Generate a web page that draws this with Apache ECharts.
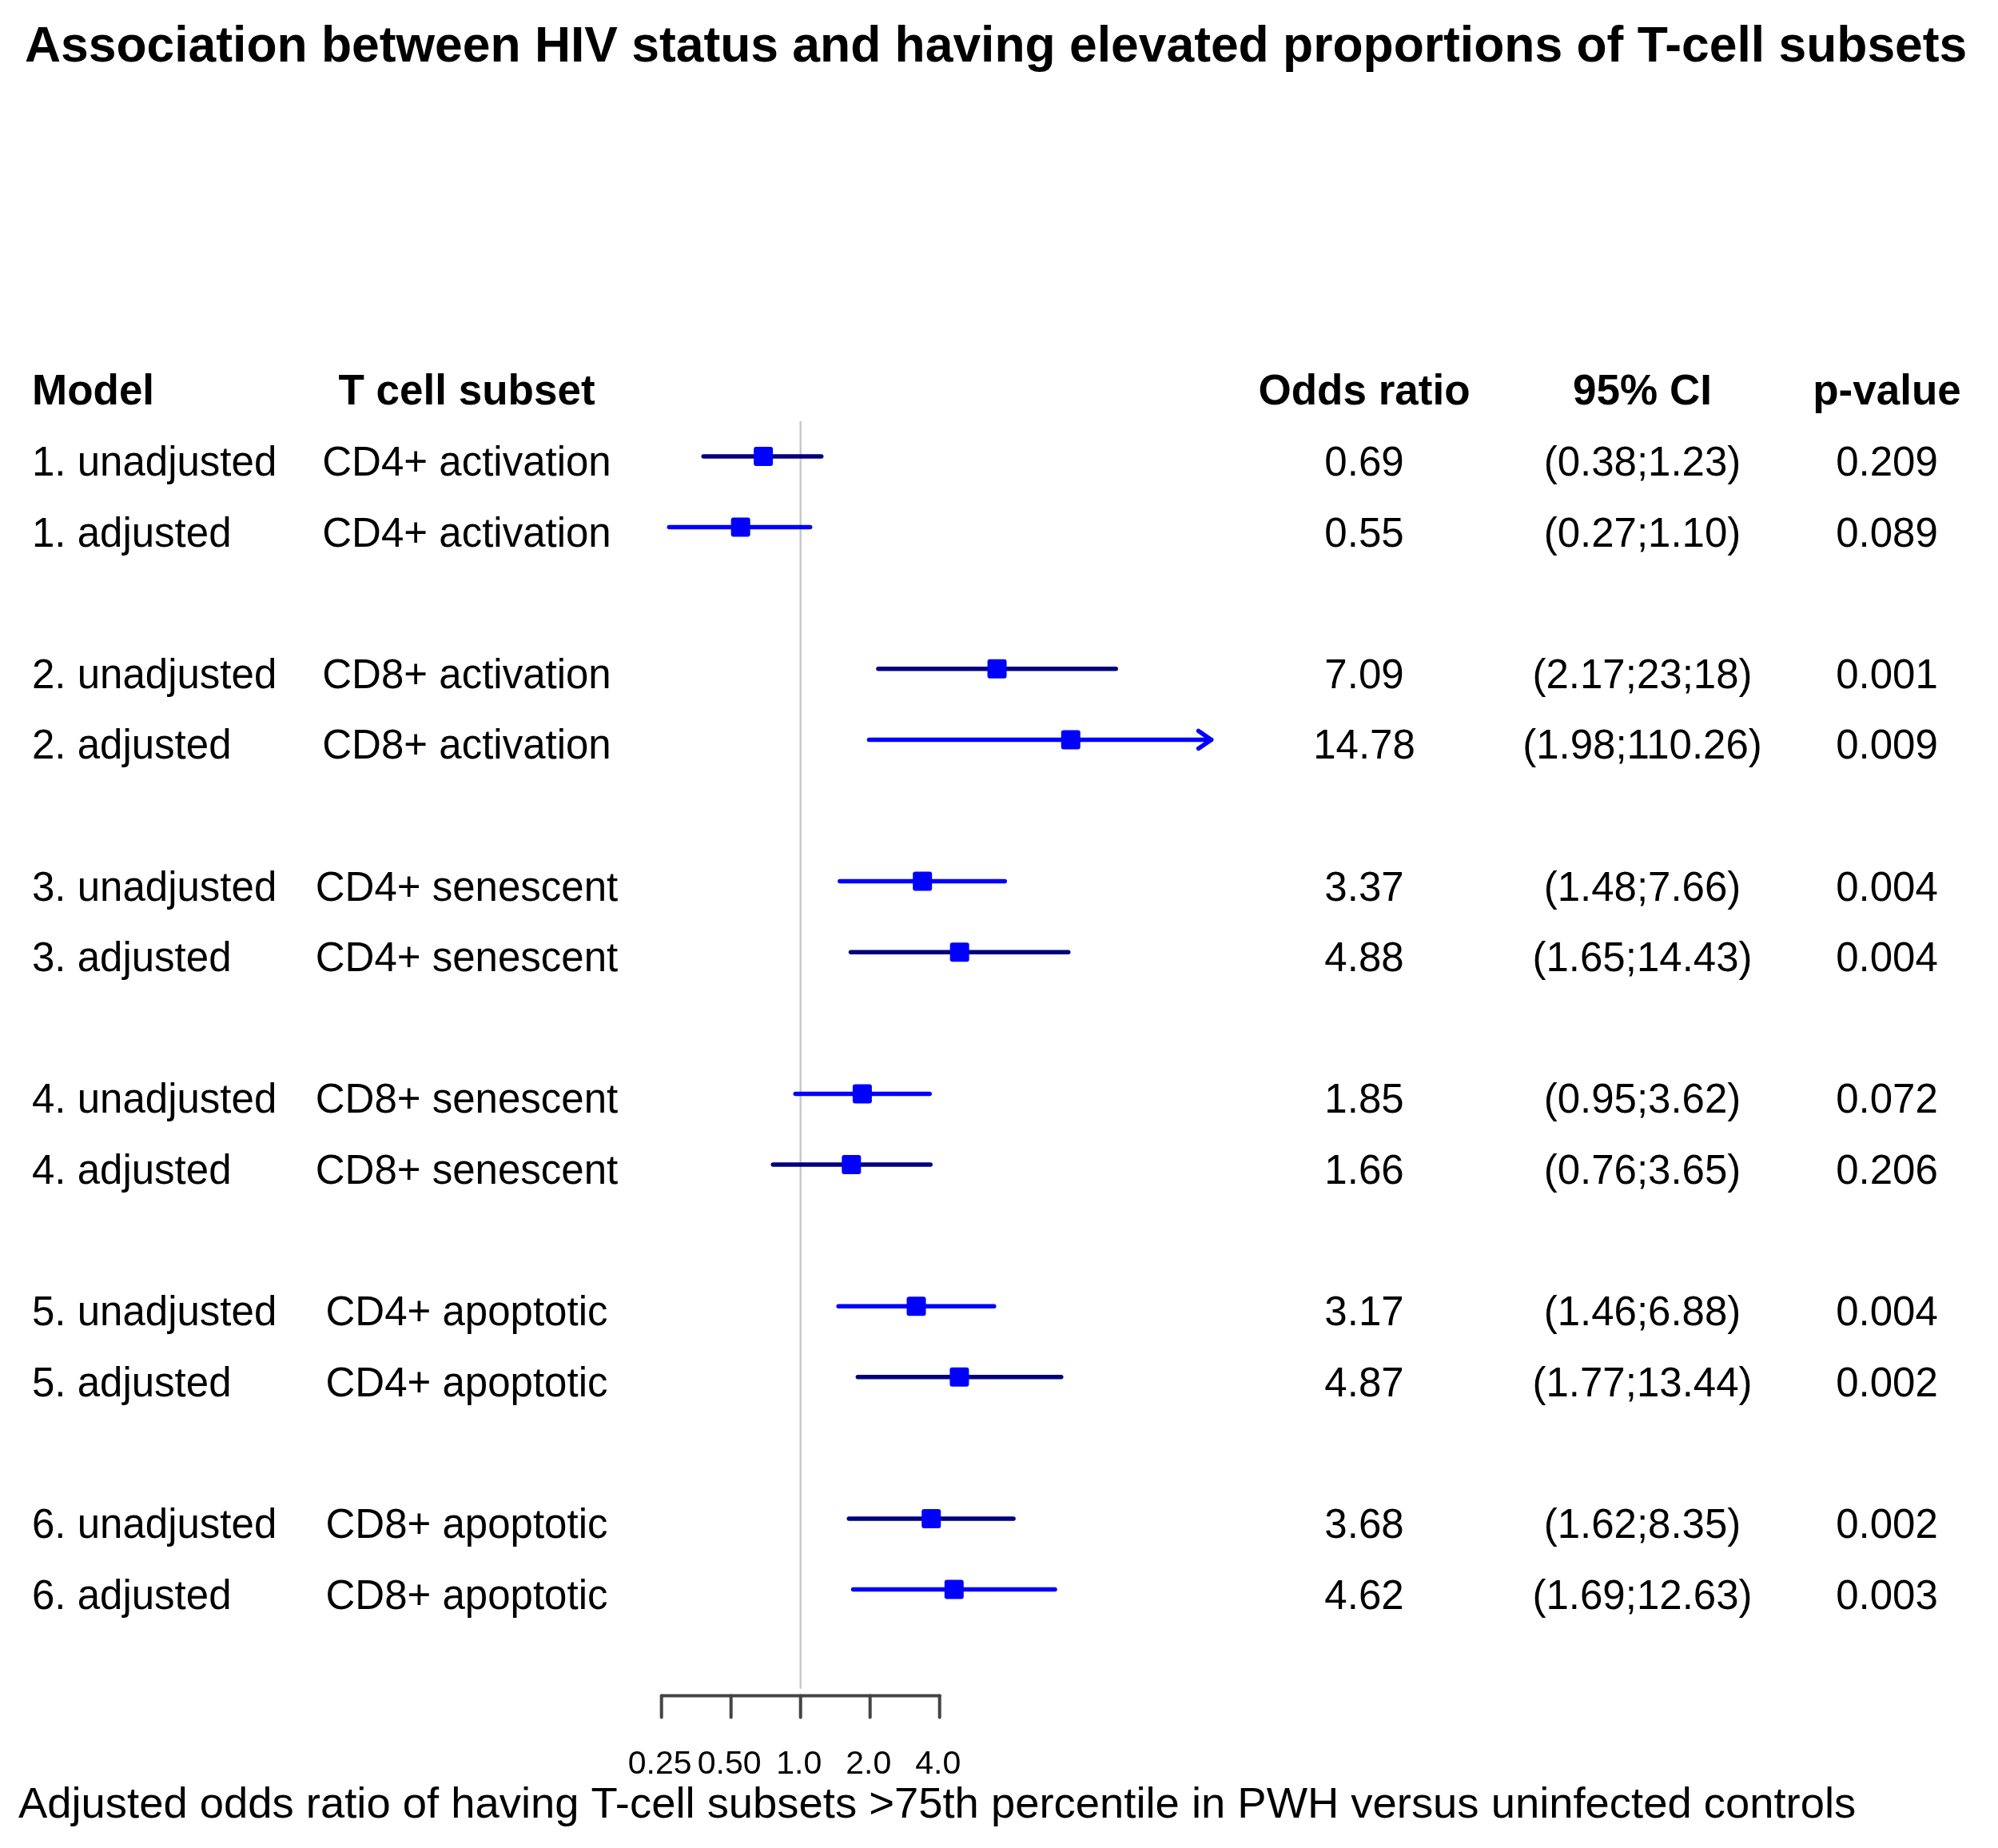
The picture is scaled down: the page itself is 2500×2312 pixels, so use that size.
<!DOCTYPE html>
<html>
<head>
<meta charset="utf-8">
<script src="https://cdn.jsdelivr.net/npm/echarts@6/dist/echarts.min.js"></script>
<style>html,body{margin:0;padding:0;background:#fff;}#c{width:2500px;height:2312px;}</style>
</head>
<body>
<div id="c"></div>
<script>
// ---- data ----
const titleText = 'Association between HIV status and having elevated proportions of T-cell subsets';
const footerText = 'Adjusted odds ratio of having T-cell subsets >75th percentile in PWH versus uninfected controls';
const headers = ['Model', 'T cell subset', 'Odds ratio', '95% CI', 'p-value'];
const models = ['1. unadjusted','1. adjusted','2. unadjusted','2. adjusted','3. unadjusted','3. adjusted',
                '4. unadjusted','4. adjusted','5. unadjusted','5. adjusted','6. unadjusted','6. adjusted'];
const subsets = ['CD4+ activation','CD4+ activation','CD8+ activation','CD8+ activation','CD4+ senescent','CD4+ senescent',
                 'CD8+ senescent','CD8+ senescent','CD4+ apoptotic','CD4+ apoptotic','CD8+ apoptotic','CD8+ apoptotic'];
const oddsRatio = [0.69, 0.55, 7.09, 14.78, 3.37, 4.88, 1.85, 1.66, 3.17, 4.87, 3.68, 4.62];
const ciLow     = [0.38, 0.27, 2.17, 1.98, 1.48, 1.65, 0.95, 0.76, 1.46, 1.77, 1.62, 1.69];
const ciHigh    = [1.23, 1.10, 23.18, 110.26, 7.66, 14.43, 3.62, 3.65, 6.88, 13.44, 8.35, 12.63];
const orText = ['0.69','0.55','7.09','14.78','3.37','4.88','1.85','1.66','3.17','4.87','3.68','4.62'];
const ciText = ['(0.38;1.23)','(0.27;1.10)','(2.17;23;18)','(1.98;110.26)','(1.48;7.66)','(1.65;14.43)',
                '(0.95;3.62)','(0.76;3.65)','(1.46;6.88)','(1.77;13.44)','(1.62;8.35)','(1.69;12.63)'];
const pText = ['0.209','0.089','0.001','0.009','0.004','0.004','0.072','0.206','0.004','0.002','0.002','0.003'];
const rowPos = [0, 1, 3, 4, 6, 7, 9, 10, 12, 13, 15, 16];
const tickValues = [0.25, 0.5, 1, 2, 4];
const tickLabels = ['0.25', '0.50', '1.0', '2.0', '4.0'];
const clipMax = 60;

// ---- styles ----
const NAVY = '#00007f', BLUE = '#0000ff';
const rowLineColors = [NAVY, BLUE, NAVY, BLUE, BLUE, NAVY, BLUE, NAVY, BLUE, NAVY, NAVY, BLUE];
const FF = '"Liberation Sans", Arial, sans-serif';
const rowFont = '51px ' + FF;
const headFont = 'bold 53px ' + FF;
const colX = { model: 40, subset: 584, or: 1707, ci: 2055, p: 2361 };
const headerPos = -1, axisPos = 17.5, refTop = -0.5, refBottom = 17.4;

const chart = echarts.init(document.getElementById('c'), null, { renderer: 'canvas' });

function txt(x, y, text, font, align) {
  return { type: 'text', style: { x: x, y: y, text: text, font: font, fill: '#000', textAlign: align, textVerticalAlign: 'middle' } };
}

const option = {
  animation: false,
  backgroundColor: '#fff',
  grid: { left: 827.7, right: 2500 - (827.7 + 696), top: 393.8, bottom: 2312 - (393.8 + 1772) },
  xAxis: { type: 'log', logBase: 2, min: 0.25, max: 64, show: false },
  yAxis: { type: 'value', min: -2, max: 18, inverse: true, show: false },
  graphic: [
    { type: 'text', left: 31, top: 29, style: { text: titleText, font: 'bold 62.4px ' + FF, fill: '#000' } },
    { type: 'text', left: 23, top: 2232, style: { text: footerText, font: '54.4px ' + FF, fill: '#000' } }
  ],
  series: [
    { // reference line at OR = 1
      type: 'custom', silent: true, clip: false,
      data: [[1, refTop, refBottom]],
      encode: { x: 0, y: [1, 2] },
      renderItem: function (params, api) {
        const a = api.coord([api.value(0), api.value(1)]);
        const b = api.coord([api.value(0), api.value(2)]);
        return { type: 'line', shape: { x1: a[0], y1: a[1], x2: b[0], y2: b[1] }, style: { stroke: '#c8c8c8', lineWidth: 2.5 } };
      }
    },
    { // axis line
      type: 'custom', silent: true, clip: false,
      data: [[tickValues[0], tickValues[tickValues.length - 1], axisPos]],
      encode: { x: [0, 1], y: 2 },
      renderItem: function (params, api) {
        const a = api.coord([api.value(0), api.value(2)]);
        const b = api.coord([api.value(1), api.value(2)]);
        return { type: 'line', shape: { x1: a[0], y1: a[1], x2: b[0], y2: b[1] }, style: { stroke: '#444', lineWidth: 4, lineCap: 'round' } };
      }
    },
    { // ticks and labels
      type: 'custom', silent: true, clip: false,
      data: tickValues.map(function (v, i) { return [v, axisPos, i]; }),
      encode: { x: 0, y: 1 },
      renderItem: function (params, api) {
        const p = api.coord([api.value(0), api.value(1)]);
        const i = api.value(2);
        return { type: 'group', children: [
          { type: 'line', shape: { x1: p[0], y1: p[1], x2: p[0], y2: p[1] + 27 }, style: { stroke: '#444', lineWidth: 4, lineCap: 'round' } },
          txt(p[0] - 2, p[1] + 86, tickLabels[i], '41px ' + FF, 'center')
        ] };
      }
    },
    { // confidence intervals + point estimates
      type: 'custom', silent: true, clip: false,
      data: rowPos.map(function (p, i) { return [ciLow[i], Math.min(ciHigh[i], clipMax), oddsRatio[i], p, i]; }),
      encode: { x: [0, 1, 2], y: 3 },
      renderItem: function (params, api) {
        const i = api.value(4);
        const y = api.value(3);
        const lo = api.coord([api.value(0), y]);
        const hi = api.coord([api.value(1), y]);
        const pt = api.coord([api.value(2), y]);
        const col = rowLineColors[i];
        const ch = [
          { type: 'line', shape: { x1: lo[0], y1: lo[1], x2: hi[0], y2: hi[1] }, style: { stroke: col, lineWidth: 5.5, lineCap: 'round' } }
        ];
        if (ciHigh[i] > clipMax) {
          ch.push({ type: 'polyline', shape: { points: [[hi[0] - 16, hi[1] - 11], [hi[0], hi[1]], [hi[0] - 16, hi[1] + 11]] },
                    style: { stroke: col, lineWidth: 5.5, fill: null, lineCap: 'round', lineJoin: 'round' } });
        }
        ch.push({ type: 'rect', shape: { x: pt[0] - 12, y: pt[1] - 12, width: 24, height: 24, r: 3 }, style: { fill: BLUE } });
        return { type: 'group', children: ch };
      }
    },
    { // table text rows
      type: 'custom', silent: true, clip: false,
      data: rowPos.map(function (p, i) { return [1, p, i]; }),
      encode: { x: 0, y: 1 },
      renderItem: function (params, api) {
        const i = api.value(2);
        const y = api.coord([1, api.value(1)])[1] + 10;
        return { type: 'group', children: [
          txt(colX.model, y, models[i], rowFont, 'left'),
          txt(colX.subset, y, subsets[i], rowFont, 'center'),
          txt(colX.or, y, orText[i], rowFont, 'center'),
          txt(colX.ci, y, ciText[i], rowFont, 'center'),
          txt(colX.p, y, pText[i], rowFont, 'center')
        ] };
      }
    },
    { // header row
      type: 'custom', silent: true, clip: false,
      data: [[1, headerPos]],
      encode: { x: 0, y: 1 },
      renderItem: function (params, api) {
        const y = api.coord([1, api.value(1)])[1] + 9;
        return { type: 'group', children: [
          txt(colX.model, y, headers[0], headFont, 'left'),
          txt(colX.subset, y, headers[1], headFont, 'center'),
          txt(colX.or, y, headers[2], headFont, 'center'),
          txt(colX.ci, y, headers[3], headFont, 'center'),
          txt(colX.p, y, headers[4], headFont, 'center')
        ] };
      }
    }
  ]
};
chart.setOption(option);
</script>
</body>
</html>
